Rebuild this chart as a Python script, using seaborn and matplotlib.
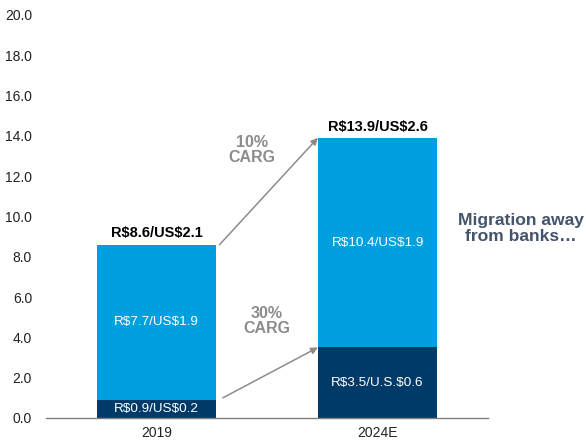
import numpy as np
import pandas as pd
import matplotlib
matplotlib.use("Agg")
import matplotlib.pyplot as plt
import seaborn as sns

# --- dados ---
years = ["2019", "2024E"]
dark_vals = [0.9, 3.5]
light_vals = [7.7, 10.4]
totals = [8.6, 13.9]
dark_labels = ["R$0.9/US$0.2", "R$3.5/U.S.$0.6"]
light_labels = ["R$7.7/US$1.9", "R$10.4/US$1.9"]
total_labels = ["R$8.6/US$2.1", "R$13.9/US$2.6"]
cagr_labels = ["10%\nCARG", "30%\nCARG"]
y_ticks = [0, 2, 4, 6, 8, 10, 12, 14, 16, 18, 20]

LIGHT = "#009FDF"
DARK = "#003A68"
GRAY = "#8C8C8C"
BAR_W = 0.54

sns.set_style("white")
plt.rcParams["font.family"] = ["Liberation Sans", "DejaVu Sans"]
plt.rcParams["text.parse_math"] = False

df = pd.DataFrame({"year": years, "dark": dark_vals, "light": light_vals, "total": totals})

fig = plt.figure(figsize=(5.86, 4.42), dpi=100)
ax = fig.add_axes([0.0785, 0.0543, 0.7545, 0.912])

# barras empilhadas: total (claro) por baixo, parte escura por cima
sns.barplot(data=df, x="year", y="total", color=LIGHT, width=BAR_W,
            saturation=1, ax=ax, edgecolor="none")
sns.barplot(data=df, x="year", y="dark", color=DARK, width=BAR_W,
            saturation=1, ax=ax, edgecolor="none")

ax.set_ylim(0, 20)
ax.set_xlim(-0.5, 1.5)
ax.set_yticks(y_ticks)
ax.set_yticklabels([f"{v:.1f}" for v in y_ticks])
ax.set_xlabel("")
ax.set_ylabel("")
ax.tick_params(axis="both", length=0, labelsize=10, colors="#222222")
ax.tick_params(axis="y", pad=10)
ax.tick_params(axis="x", pad=6)

for s in ["top", "right", "left"]:
    ax.spines[s].set_visible(False)
ax.spines["bottom"].set_color("#7F7F7F")
ax.spines["bottom"].set_linewidth(1.0)

# rótulos
for i in range(len(years)):
    ax.text(i, dark_vals[i] / 2, dark_labels[i], ha="center", va="center",
            color="white", fontsize=9.7)
    ax.text(i, dark_vals[i] + light_vals[i] / 2, light_labels[i], ha="center",
            va="center", color="white", fontsize=9.7)
    ax.annotate(total_labels[i], (i, totals[i]), xytext=(0, 3),
                textcoords="offset points", ha="center", va="bottom",
                fontsize=10.5, fontweight="bold", color="black")

# setas de crescimento
arrow_kw = dict(arrowstyle="-|>", color=GRAY, lw=1.1, mutation_scale=10,
                shrinkA=0, shrinkB=0)
ax.annotate("", xy=(1 - BAR_W / 2, totals[1]), xytext=(BAR_W / 2 + 0.015, totals[0]),
            arrowprops=arrow_kw)
ax.annotate("", xy=(1 - BAR_W / 2, dark_vals[1]), xytext=(BAR_W / 2 + 0.03, dark_vals[0] + 0.1),
            arrowprops=arrow_kw)

ax.text(0.43, 13.3, cagr_labels[0], ha="center", va="center", color=GRAY,
        fontsize=11.5, fontweight="bold", linespacing=1.0)
ax.text(0.5, 4.8, cagr_labels[1], ha="center", va="center", color=GRAY,
        fontsize=11.5, fontweight="bold", linespacing=1.0)

ax.text(1.65, 9.4, "Migration away\nfrom banks…", ha="center", va="center",
        color="#44546A", fontsize=12.6, fontweight="bold", linespacing=1.1,
        clip_on=False)

fig.savefig("out.png", dpi=100)
plt.close(fig)
